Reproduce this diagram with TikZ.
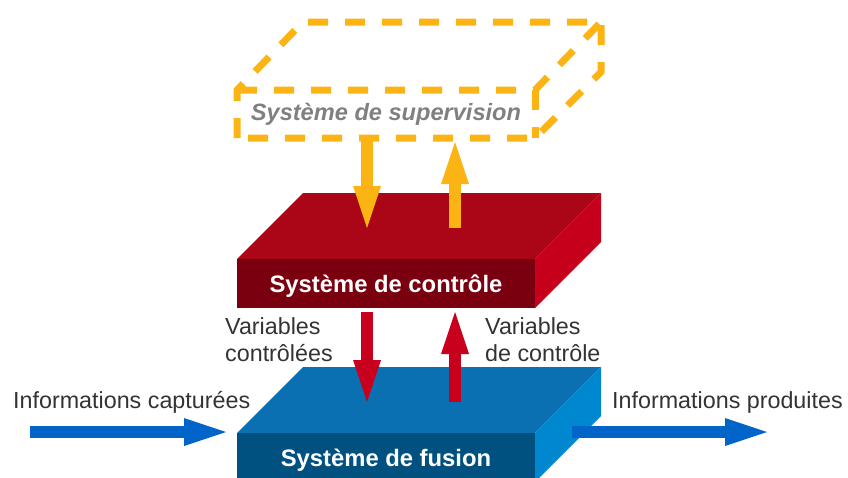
\documentclass[tikz,border=0pt]{standalone}
\usepackage{fontspec}
\setmainfont{Liberation Sans}
\usetikzlibrary{arrows.meta}
\definecolor{orng}{RGB}{252,180,21}
\definecolor{redtop}{RGB}{170,6,23}
\definecolor{redfront}{RGB}{122,0,16}
\definecolor{redside}{RGB}{198,0,26}
\definecolor{redarrow}{RGB}{200,0,30}
\definecolor{bluetop}{RGB}{10,112,178}
\definecolor{bluefront}{RGB}{0,80,128}
\definecolor{blueside}{RGB}{0,135,208}
\definecolor{bluearrow}{RGB}{0,100,200}
\definecolor{labelgray}{RGB}{51,51,51}
\definecolor{supgray}{RGB}{128,128,128}
\begin{document}
\begin{tikzpicture}[x=1pt,y=-1pt,
  face/.style={anchor=north west,inner sep=0pt,outer sep=0pt,minimum width=298pt},
  bigarrow/.style={line width=12pt,-{Triangle[width=28pt,length=42pt,line width=0pt]}},
  boldlabel/.style={anchor=base,inner sep=0pt,text=white,font=\fontsize{23.8}{28}\selectfont\bfseries},
  txtlabel/.style={inner sep=0pt,text=labelgray,font=\fontsize{23.3}{27}\selectfont,align=left},
  dashbox/.style={draw=orng,line width=7pt,dash pattern=on 20pt off 17pt}
]
\useasboundingbox (0,0) rectangle (848,477);
\clip (0,0) rectangle (848,477);

% fusion box
\fill[bluetop] (237,433) -- (303,367) -- (601,367) -- (535,433) -- cycle;
\fill[blueside] (535,433) -- (601,367) -- (601,416) -- (535,482) -- cycle;
\node[face,fill=bluefront,minimum height=50pt] (fusion) at (237,433) {};
\node[boldlabel] (fusionlbl) at (386,466) {Système de fusion};

% control box
\fill[redtop] (237,259) -- (303,193) -- (601,193) -- (535,259) -- cycle;
\fill[redside] (535,259) -- (601,193) -- (601,242) -- (535,308) -- cycle;
\node[face,fill=redfront,minimum height=49pt] (ctrl) at (237,259) {};
\node[boldlabel] (ctrllbl) at (386,292) {Système de contrôle};

% supervision box (dashed)
\draw[dashbox] (237,138) -- (237,90) -- (303,22) -- (601,22) -- (601,72) -- (535,138) -- cycle;
\draw[dashbox] (237,90) -- (535,90) -- (601,22);
\draw[dashbox] (535,90) -- (535,138);
\node[anchor=base,inner sep=0pt,text=supgray,font=\fontsize{23.6}{28}\selectfont\bfseries\itshape] (sup) at (386,120) {Système de supervision};

% arrow end points
\coordinate (o1s) at (367,138); \coordinate (o1e) at (367,228);
\coordinate (o2s) at (455,228); \coordinate (o2e) at (455,142);
\coordinate (r1s) at (367,312); \coordinate (r1e) at (367,402);
\coordinate (r2s) at (455,402); \coordinate (r2e) at (455,312);
\coordinate (b1s) at (30,432);  \coordinate (b1e) at (226,432);
\coordinate (b2s) at (572,432); \coordinate (b2e) at (767,432);

\draw[bigarrow,orng] (o1s) -- (o1e);
\draw[bigarrow,orng] (o2s) -- (o2e);
\draw[bigarrow,redarrow] (r1s) -- (r1e);
\draw[bigarrow,redarrow] (r2s) -- (r2e);
\draw[bigarrow,bluearrow] (b1s) -- (b1e);
\draw[bigarrow,bluearrow] (b2s) -- (b2e);

% labels
\node[txtlabel,anchor=north west] (varc) at (225,317) {Variables\\contrôlées};
\node[txtlabel,anchor=north west] (vard) at (485,317) {Variables\\de contrôle};
\node[txtlabel,anchor=base west] (infc) at (13,408) {Informations capturées};
\node[txtlabel,anchor=base west] (infp) at (612,408) {Informations produites};
\end{tikzpicture}
\end{document}
